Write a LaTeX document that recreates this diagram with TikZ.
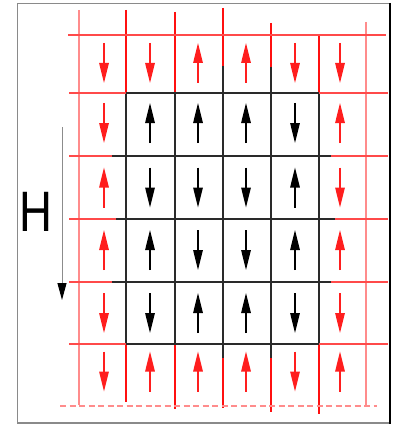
\documentclass[tikz,border=0pt]{standalone}
\usepackage{fontspec}
\setmainfont{Liberation Sans}
\usetikzlibrary{arrows.meta}
\definecolor{spinred}{HTML}{FF1E1E}
\definecolor{gridred}{HTML}{FF4A4A}
\definecolor{linered}{HTML}{FF1010}
\definecolor{palered}{HTML}{FF8C8C}
\definecolor{gridblack}{HTML}{2A2A2A}
\definecolor{framegray}{HTML}{8A8A8A}
\tikzset{
  spin/.style={line width=1.3pt, -{Triangle[length=20pt,width=9.5pt]}},
  redspin/.style={spin, spinred},
  blackspin/.style={spin, black},
  hline/.style={line width=1.2pt},
  vline/.style={line width=1.2pt},
  framestyle/.style={line width=1.5pt, framegray},
}
\begin{document}
\begin{tikzpicture}[x=1pt,y=-1pt]
\useasboundingbox (0,0) rectangle (398,425);
% frame
\draw[framestyle] (390,3.5) -- (17.5,3.5) -- (17.5,423) -- (390,423);
\draw[line width=1.3pt, black] (390,3) -- (390,423.5);
% vertical lines
\draw[vline, palered] (79,10) -- (79,405);
\draw[vline, palered] (366,22) -- (366,405);
\foreach \xx/\ta/\tb/\ba/\bb in {126/10/93/345/402, 175/12/93/345/409, 223/8/66/358/408, 271/23/67/358/412, 319/35/93/345/414}{
  \draw[vline, linered] (\xx,\ta) -- (\xx,\tb);
  \draw[vline, gridblack] (\xx,\tb) -- (\xx,\ba);
  \draw[vline, linered] (\xx,\ba) -- (\xx,\bb);
}
% horizontal lines
\draw[hline, gridred] (68,35) -- (386,35);
\foreach \yy/\la/\lb in {93/126/319, 156/112/331, 219/116/335, 282/112/331, 344/126/319}{
  \draw[hline, gridred] (69,\yy) -- (\la,\yy);
  \draw[hline, gridblack] (\la,\yy) -- (\lb,\yy);
  \draw[hline, gridred] (\lb,\yy) -- (388,\yy);
}
% dashed bottom line
\draw[line width=1.2pt, palered, dash pattern=on 6pt off 3.5pt] (60,406) -- (377,406);
% field arrow and label
\coordinate (ftop) at (62,127);
\coordinate (fbot) at (62,300);
\draw[line width=1pt, black!45, -{Triangle[length=17pt,width=9pt,black]}] (ftop) -- (fbot);
\node[font=\fontsize{57}{57}\selectfont, xscale=0.8, inner sep=0pt] (H) at (36,211.5) {H};
% red spins
\foreach \xx/\yy/\s in {104/63/1, 150/63/1, 198/63/-1, 246/63/-1, 295/63/1, 340/63/1,
  104/371.5/1, 150/371.5/-1, 198/371.5/-1, 246/371.5/-1, 295/371.5/1, 340/371.5/-1,
  104/123/1, 104/187.5/-1, 104/250/-1, 104/313/1,
  340/123/-1, 340/187.5/1, 340/250/-1, 340/313/1}{
  \draw[redspin] (\xx,{\yy-20*\s}) -- (\xx,{\yy+20*\s});
}
% black spins
\foreach \xx/\yy/\s in {150/123/-1, 198/123/-1, 246/123/-1, 295/123/1,
  150/187.5/1, 198/187.5/1, 246/187.5/1, 295/187.5/-1,
  150/250/-1, 198/250/1, 246/250/1, 295/250/-1,
  150/313/1, 198/313/-1, 246/313/-1, 295/313/1}{
  \draw[blackspin] (\xx,{\yy-20*\s}) -- (\xx,{\yy+20*\s});
}
\end{tikzpicture}
\end{document}
